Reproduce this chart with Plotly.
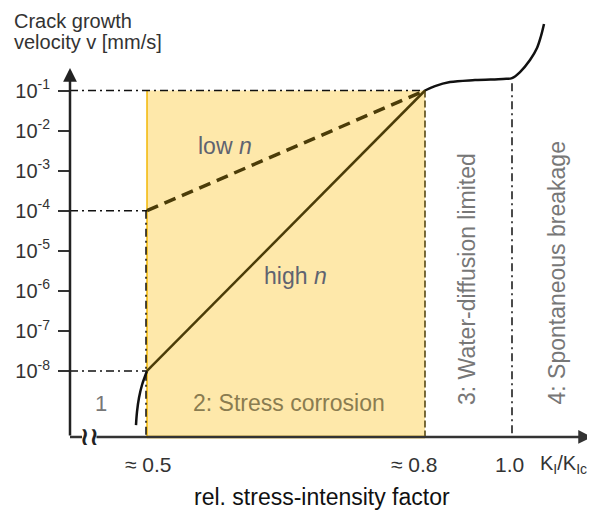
import numpy as np
import plotly.graph_objects as go

# ---------------- data (schematic) ----------------
# x axis: schematic K_I/K_Ic position units
k_ratio_text = ["≈ 0.5", "≈ 0.8", "1.0"]
k_ratio_x = [147, 425, 512]
k_axis_label = "K<sub>I</sub>/K<sub>Ic</sub>"
k_axis_label_x = 538

# y axis: log10 of crack growth velocity v [mm/s]
y_tick_exps = [-1, -2, -3, -4, -5, -6, -7, -8]
y_tick_text = [f"10<sup>{e}</sup>" for e in y_tick_exps]

logv_region3 = -1      # v = 1e-1 mm/s, end of stress corrosion
logv_low_n_start = -4  # v = 1e-4 at K ≈ 0.5 (low n)
logv_high_n_start = -8 # v = 1e-8 at K ≈ 0.5 (high n)

# region 1 (threshold) curve
r1_x = [136, 137, 139, 142, 147]
r1_logv = [-9.35, -9.02, -8.67, -8.35, -8.0]

# region 3/4 curve (plateau and spontaneous breakage)
r34_x = [425, 435, 450, 475, 503, 512, 520, 530, 537, 541, 544]
r34_logv = [-1.0, -0.89, -0.79, -0.74, -0.71, -0.69, -0.54, -0.24, 0.06, 0.36, 0.66]

# ---------------- layout constants ----------------
PAGE_OFF = 8            # default body margin of the html page
W, H = 595 - PAGE_OFF, 514 - PAGE_OFF
Y_RANGE = [-11.569, 1.0589]
X_RANGE = [PAGE_OFF, 595]
AX_X = 70
AX_Y = -9.647
ARROW_TOP = -0.4385
X_END = 592

FONT = "Liberation Sans, Arial, sans-serif"
LINE_DARK = "#4b3c08"
FILL = "#FEE8AA"
ORANGE = "#F2B705"

fig = go.Figure()

# ---- curves ----
fig.add_trace(go.Scatter(x=r1_x, y=r1_logv, mode="lines",
                         line=dict(color="#111", width=2.5, shape="spline"),
                         hoverinfo="skip", showlegend=False))
fig.add_trace(go.Scatter(x=r34_x, y=r34_logv, mode="lines",
                         line=dict(color="#111", width=2.5, shape="spline"),
                         hoverinfo="skip", showlegend=False))
fig.add_trace(go.Scatter(x=[k_ratio_x[0], k_ratio_x[1]], y=[logv_high_n_start, logv_region3],
                         mode="lines", line=dict(color=LINE_DARK, width=2.5),
                         hoverinfo="skip", showlegend=False))
fig.add_trace(go.Scatter(x=[k_ratio_x[0], k_ratio_x[1]], y=[logv_low_n_start, logv_region3],
                         mode="lines", line=dict(color=LINE_DARK, width=3.5, dash="12px,7px"),
                         hoverinfo="skip", showlegend=False))

shapes = []
# stress corrosion region
shapes.append(dict(type="rect", xref="x", yref="y", x0=k_ratio_x[0], x1=k_ratio_x[1],
                   y0=AX_Y, y1=logv_region3, fillcolor=FILL, line=dict(width=0), layer="below"))
shapes.append(dict(type="line", xref="x", yref="y", x0=k_ratio_x[0], x1=k_ratio_x[0],
                   y0=AX_Y, y1=logv_region3, line=dict(color=ORANGE, width=1.5), layer="below"))

dashdot = "8px,4px,2px,4px"
# horizontal dash-dot guides
for lv, xe in [(logv_region3, k_ratio_x[1]), (logv_low_n_start, k_ratio_x[0]),
               (logv_high_n_start, k_ratio_x[0])]:
    shapes.append(dict(type="line", xref="x", yref="y", x0=AX_X, x1=xe, y0=lv, y1=lv,
                       line=dict(color="#111", width=1.5, dash=dashdot), layer="below"))
# vertical guides
shapes.append(dict(type="line", xref="x", yref="y", x0=k_ratio_x[0] - 1, x1=k_ratio_x[0] - 1,
                   y0=logv_low_n_start, y1=AX_Y,
                   line=dict(color="#111", width=1.5, dash=dashdot), layer="below"))
shapes.append(dict(type="line", xref="x", yref="y", x0=k_ratio_x[1], x1=k_ratio_x[1],
                   y0=logv_region3, y1=AX_Y,
                   line=dict(color=LINE_DARK, width=1.5, dash="7px,3px"), layer="below"))
shapes.append(dict(type="line", xref="x", yref="y", x0=k_ratio_x[2], x1=k_ratio_x[2],
                   y0=-0.82, y1=AX_Y,
                   line=dict(color="#111", width=1.5, dash=dashdot), layer="below"))
# axes lines (bottom with break)
shapes.append(dict(type="line", xref="x", yref="y", x0=AX_X, x1=82, y0=AX_Y, y1=AX_Y,
                   line=dict(color="#333", width=2.5)))
shapes.append(dict(type="line", xref="x", yref="y", x0=k_ratio_x[0], x1=k_ratio_x[1],
                   y0=AX_Y, y1=AX_Y, line=dict(color=ORANGE, width=2.5)))

ann = []
# y axis arrow
ann.append(dict(x=AX_X, y=ARROW_TOP, ax=AX_X, ay=AX_Y, xref="x", yref="y", axref="x", ayref="y",
                text="", showarrow=True, arrowhead=2, arrowsize=1.1, arrowwidth=2.5,
                arrowcolor="#222", standoff=0, startstandoff=0))
# x axis arrow
ann.append(dict(x=X_END, y=AX_Y, ax=95, ay=AX_Y, xref="x", yref="y", axref="x", ayref="y",
                text="", showarrow=True, arrowhead=2, arrowsize=1.1, arrowwidth=2.5,
                arrowcolor="#333", standoff=0, startstandoff=0))
# axis break symbol
ann.append(dict(x=89, y=AX_Y, xref="x", yref="y", text="<b>≀≀</b>", showarrow=False,
                font=dict(family="DejaVu Sans", size=25, color="#222")))

# y title
ann.append(dict(x=12, y=1.0589, xref="x", yref="y", text="Crack growth", showarrow=False,
                xanchor="left", yanchor="top", font=dict(family=FONT, size=20, color="#333")))
ann.append(dict(x=12, y=0.21, xref="x", yref="y", text="velocity v [mm/s]", showarrow=False,
                xanchor="left", font=dict(family=FONT, size=20, color="#333")))

# x tick labels
LBL_Y = -10.346
xshifts = [1, -11, -3]
for t, xv, xs in zip(k_ratio_text, k_ratio_x, xshifts):
    ann.append(dict(x=xv, y=LBL_Y, xref="x", yref="y", text=t, showarrow=False, xshift=xs,
                    font=dict(family=FONT, size=21, color="#333")))
ann.append(dict(x=k_axis_label_x, y=LBL_Y, xref="x", yref="y", text=k_axis_label, showarrow=False,
                xanchor="left", font=dict(family=FONT, size=20, color="#333")))
# x title
ann.append(dict(x=322, y=-11.145, xref="x", yref="y", text="rel. stress-intensity factor",
                showarrow=False, font=dict(family=FONT, size=23, color="#111")))

# region labels
ann.append(dict(x=225, y=-2.385, xref="x", yref="y", text="low <i>n</i>", showarrow=False,
                font=dict(family=FONT, size=23, color="#5f6370")))
ann.append(dict(x=295, y=-5.63, xref="x", yref="y", text="high <i>n</i>", showarrow=False,
                font=dict(family=FONT, size=23, color="#5f6370")))
ann.append(dict(x=289, y=-8.80, xref="x", yref="y", text="2: Stress corrosion", showarrow=False,
                font=dict(family=FONT, size=23, color="#8a7c50")))
ann.append(dict(x=101, y=-8.80, xref="x", yref="y", text="1", showarrow=False,
                font=dict(family=FONT, size=22, color="#777")))
ann.append(dict(x=467, y=-8.899, xref="x", yref="y", text="3: Water-diffusion limited",
                textangle=-90, yanchor="bottom", showarrow=False,
                font=dict(family=FONT, size=23, color="#777")))
ann.append(dict(x=557, y=-8.899, xref="x", yref="y", text="4: Spontaneous breakage",
                textangle=-90, yanchor="bottom", showarrow=False,
                font=dict(family=FONT, size=23, color="#777")))

fig.update_layout(
    width=W, height=H, margin=dict(l=0, r=0, t=0, b=0),
    paper_bgcolor="white", plot_bgcolor="white",
    shapes=shapes, annotations=ann, showlegend=False,
    xaxis=dict(range=X_RANGE, visible=False, fixedrange=True),
    yaxis=dict(range=Y_RANGE, anchor="free", position=(AX_X - PAGE_OFF) / W, showline=False,
               showgrid=False, zeroline=False, ticks="outside", ticklen=12, tickwidth=2,
               tickcolor="#333", tickvals=y_tick_exps, ticktext=y_tick_text,
               tickfont=dict(family=FONT, size=20, color="#333"), ticklabelstandoff=4,
               automargin=False, fixedrange=True),
)

fig.write_html("out.html")
